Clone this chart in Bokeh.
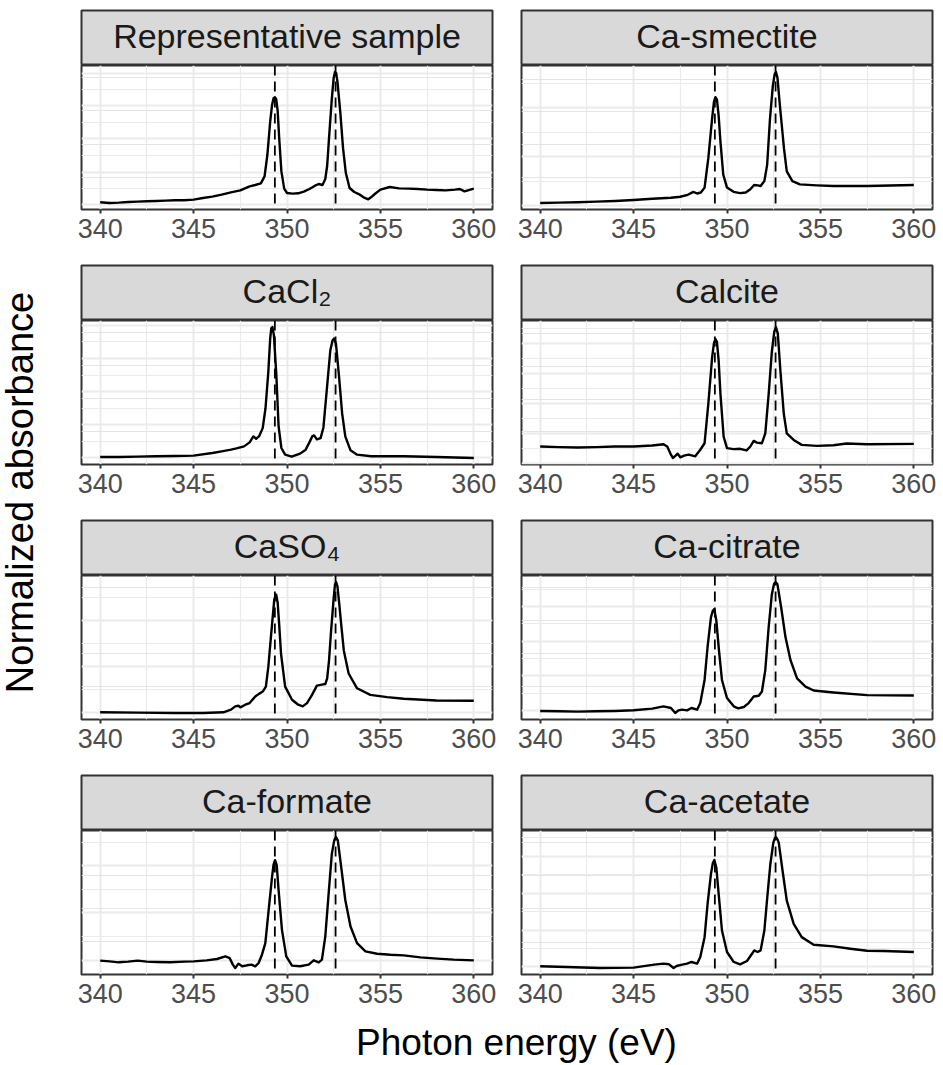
import math
from bokeh.plotting import figure
from bokeh.layouts import row, column
from bokeh.models import Range1d, FixedTicker, Grid, Span
from bokeh.core.properties import value
from bokeh.embed import file_html
from bokeh.resources import INLINE

FONT = "Liberation Sans"

# ---------------- data ----------------
panel_titles = ["Representative sample", "Ca-smectite", "CaCl\u2082", "Calcite",
                "CaSO\u2084", "Ca-citrate", "Ca-formate", "Ca-acetate"]

energy_ticks = [340, 345, 350, 355, 360]
energy_minor_ticks = [342.5, 347.5, 352.5, 357.5]
edge_energies = [349.35, 352.6]

x_title = "Photon energy (eV)"
y_title = "Normalized absorbance"

rep_e = [340.0, 340.5, 341.0, 341.5, 342.0, 342.5, 343.0, 343.5, 344.0, 344.5, 345.0, 345.5,
         346.0, 346.5, 347.0, 347.5, 348.0, 348.3, 348.6, 348.8, 348.95, 349.1, 349.2, 349.28,
         349.35, 349.42, 349.5, 349.58, 349.7, 349.85, 350.0, 350.3, 350.6, 350.9, 351.2, 351.5,
         351.7, 351.9, 352.05, 352.15, 352.25, 352.4, 352.5, 352.57, 352.63, 352.7, 352.85,
         353.0, 353.15, 353.35, 353.6, 353.9, 354.1, 354.35, 354.5, 354.7, 355.0, 355.5, 356.0,
         356.5, 357.0, 357.5, 358.0, 358.5, 359.0, 359.25, 359.5, 360.0]
rep_a = [25, 23, 24, 26, 27, 28, 29, 30, 31, 31, 33, 38,
         42, 48, 55, 61, 73, 77, 82, 103, 168, 268, 318, 338,
         341, 336, 300, 220, 118, 66, 53, 51, 52, 57, 65, 75,
         80, 77, 95, 135, 218, 338, 400, 417, 414, 388, 298,
         188, 113, 68, 56, 48, 40, 34, 40, 50, 63, 71, 67,
         66, 65, 63, 62, 61, 63, 65, 58, 66]

smec_e = [340.0, 341.0, 342.0, 343.0, 344.0, 345.0, 346.0, 347.0, 347.5, 347.9, 348.2, 348.4,
          348.6, 348.8, 349.0, 349.2, 349.3, 349.38, 349.46, 349.55, 349.65, 349.8, 350.0,
          350.35, 350.7, 351.0, 351.25, 351.45, 351.65, 351.8, 352.0, 352.15, 352.3, 352.45,
          352.55, 352.62, 352.7, 352.85, 353.05, 353.2, 353.5, 353.9, 354.8, 355.7, 357.5, 360.0]
smec_a = [21, 22, 23, 25, 27, 30, 34, 37, 40, 46, 55, 50,
          53, 68, 158, 278, 330, 345, 338, 290, 208, 108, 68,
          55, 51, 53, 63, 76, 75, 73, 88, 138, 278, 378,
          415, 422, 405, 308, 188, 118, 88, 78, 75, 73, 73, 76]

cacl2_e = [340.0, 341.0, 342.0, 343.0, 344.0, 345.0, 346.0, 346.5, 347.0, 347.3, 347.7, 348.0,
           348.2, 348.35, 348.5, 348.7, 348.85, 349.0, 349.1, 349.16, 349.22, 349.3, 349.43,
           349.55, 349.7, 349.9, 350.25, 350.7, 351.0, 351.2, 351.35, 351.45, 351.6, 351.8,
           351.95, 352.15, 352.32, 352.44, 352.52, 352.62, 352.77, 352.95, 353.12, 353.4, 353.75,
           354.5, 356.25, 358.0, 360.0]
cacl2_a = [23, 23, 24, 25, 26, 27, 35, 40, 45, 49, 55, 67,
           85, 78, 85, 110, 170, 280, 380, 412, 415, 390, 270,
           115, 50, 30, 24, 33, 45, 67, 85, 88, 76, 80,
           112, 238, 345, 375, 380, 365, 275, 155, 85, 43, 30,
           25, 25, 23, 20]

calc_e = [340.0, 341.0, 342.0, 343.0, 344.0, 345.0, 346.0, 346.6, 346.8, 347.0, 347.1, 347.25,
          347.36, 347.5, 347.7, 347.95, 348.3, 348.57, 348.8, 349.0, 349.2, 349.3, 349.38,
          349.46, 349.55, 349.65, 349.82, 350.0, 350.35, 350.7, 351.05, 351.25, 351.43, 351.6,
          351.87, 352.05, 352.23, 352.4, 352.53, 352.62, 352.72, 352.86, 353.04, 353.2, 353.57,
          354.0, 354.8, 355.7, 356.4, 357.5, 360.0]
calc_a = [55, 53, 52, 53, 55, 55, 58, 62, 55, 30, 20, 27,
          33, 22, 27, 30, 25, 45, 65, 185, 325, 370, 383,
          375, 320, 215, 85, 50, 47, 48, 43, 55, 72, 67,
          65, 95, 215, 345, 405, 420, 400, 285, 155, 95, 75,
          60, 57, 59, 64, 62, 63]

caso4_e = [340.0, 342.0, 344.0, 345.5, 346.6, 347.0, 347.23, 347.4, 347.5, 347.77, 348.0, 348.3,
           348.5, 348.7, 348.87, 349.0, 349.2, 349.32, 349.42, 349.5, 349.58, 349.68, 349.9,
           350.27, 350.6, 350.84, 351.07, 351.34, 351.6, 351.86, 352.05, 352.15, 352.25, 352.36,
           352.5, 352.57, 352.63, 352.7, 352.8, 352.9, 353.04, 353.3, 353.75, 354.46, 355.36,
           356.25, 358.0, 360.0]
caso4_a = [22, 21, 20, 20, 22, 30, 40, 42, 37, 45, 50, 70,
           78, 85, 100, 160, 290, 365, 380, 355, 290, 200, 100,
           60, 45, 40, 50, 75, 103, 106, 108, 125, 180, 270,
           370, 410, 418, 405, 350, 290, 210, 140, 95, 75, 68,
           63, 58, 57]

citr_e = [340.0, 341.0, 342.0, 343.0, 344.0, 345.0, 346.0, 346.6, 347.0, 347.23, 347.4, 347.6,
          347.86, 348.1, 348.4, 348.57, 348.8, 348.96, 349.14, 349.24, 349.32, 349.43, 349.57,
          349.73, 350.0, 350.36, 350.6, 350.9, 351.16, 351.43, 351.7, 351.87, 352.05, 352.23,
          352.4, 352.52, 352.6, 352.7, 352.9, 353.13, 353.4, 353.75, 354.2, 354.64, 355.7,
          357.5, 360.0]
citr_a = [26, 25, 24, 25, 26, 28, 33, 40, 35, 20, 28, 30,
          28, 35, 30, 50, 120, 220, 310, 330, 335, 300, 210,
          120, 65, 40, 34, 38, 50, 70, 72, 85, 150, 280,
          380, 412, 417, 410, 340, 250, 180, 125, 100, 88, 82,
          74, 73]

form_e = [340.0, 340.5, 341.0, 341.5, 342.0, 342.5, 343.0, 343.75, 344.5, 345.0, 345.7, 346.25,
          346.7, 346.93, 347.1, 347.23, 347.4, 347.6, 347.86, 348.1, 348.3, 348.48, 348.66,
          348.84, 349.0, 349.2, 349.28, 349.36, 349.45, 349.55, 349.73, 349.96, 350.27, 350.7,
          351.16, 351.43, 351.7, 351.87, 352.05, 352.23, 352.4, 352.53, 352.62, 352.72, 352.9,
          353.12, 353.4, 353.75, 354.2, 354.82, 355.54, 356.25, 357.14, 358.04, 358.93, 360.0]
form_a = [42, 40, 37, 39, 42, 39, 38, 37, 39, 40, 43, 47,
          55, 50, 30, 20, 33, 25, 28, 30, 25, 35, 60,
          95, 185, 295, 332, 345, 330, 255, 135, 55, 27, 25,
          30, 43, 37, 45, 115, 245, 365, 405, 415, 405, 325,
          225, 145, 95, 70, 63, 60, 58, 52, 48, 45, 43]

acet_e = [340.0, 341.4, 343.2, 345.0, 346.1, 346.6, 346.9, 347.14, 347.3, 347.6, 347.86, 348.1,
          348.4, 348.57, 348.8, 348.96, 349.14, 349.24, 349.32, 349.43, 349.57, 349.73, 350.0,
          350.36, 350.7, 351.07, 351.34, 351.46, 351.64, 351.8, 352.0, 352.14, 352.32, 352.48,
          352.56, 352.62, 352.7, 352.77, 352.95, 353.2, 353.57, 354.0, 354.64, 355.7, 356.6,
          357.5, 358.4, 360.0]
acet_a = [27, 25, 22, 23, 32, 35, 33, 22, 28, 32, 35, 40,
          35, 55, 115, 215, 305, 338, 348, 325, 235, 135, 70,
          40, 33, 43, 65, 75, 70, 75, 135, 225, 335, 400,
          413, 417, 410, 400, 325, 225, 155, 115, 92, 87, 80,
          74, 73, 70]

# horizontal grid lines (major / minor) of each panel, in the panel's absorbance units
rep_grid_major = [18, 116, 216, 315, 413]
rep_grid_minor = [66, 166, 265, 363]
smec_grid_major = [13, 163, 313]
smec_grid_minor = [88, 238, 388]
cacl2_grid_major = [20, 120, 220, 320, 420]
cacl2_grid_minor = [70, 170, 270, 370]
calc_grid_major = [4, 96, 187, 278, 369]
calc_grid_minor = [50, 141, 232, 324, 415]
caso4_grid_major = [21, 161, 301]
caso4_grid_minor = [91, 231, 371]
citr_grid_major = [28, 133, 238, 343]
citr_grid_minor = [80, 185, 290, 395]
form_grid_major = [43, 186, 329]
form_grid_minor = [114, 257, 400]
acet_grid_major = [25, 136, 248, 359]
acet_grid_minor = [81, 192, 304, 415]

panels = [
    (rep_e, rep_a, rep_grid_major, rep_grid_minor),
    (smec_e, smec_a, smec_grid_major, smec_grid_minor),
    (cacl2_e, cacl2_a, cacl2_grid_major, cacl2_grid_minor),
    (calc_e, calc_a, calc_grid_major, calc_grid_minor),
    (caso4_e, caso4_a, caso4_grid_major, caso4_grid_minor),
    (citr_e, citr_a, citr_grid_major, citr_grid_minor),
    (form_e, form_a, form_grid_major, form_grid_minor),
    (acet_e, acet_a, acet_grid_major, acet_grid_minor),
]

# ---------------- styling / layout ----------------
FRAME_W = 411
FRAME_H = 144
STRIP_H = 55
BORDER = "#333333"
GRID = "#EBEBEB"
LEFT_COL = dict(min_border_left=21, min_border_right=14)
RIGHT_COL = dict(min_border_left=15, min_border_right=11)


def hide_grids(f):
    for g in f.grid:
        g.visible = False


def make_strip(title, col_kw, top):
    s = figure(frame_width=FRAME_W, frame_height=STRIP_H, x_range=Range1d(0, 1),
               y_range=Range1d(0, STRIP_H), x_axis_location=None, y_axis_location=None,
               min_border_top=top, min_border_bottom=0, output_backend="svg", title=None,
               toolbar_location=None, tools="", **col_kw)
    hide_grids(s)
    s.background_fill_color = "#D9D9D9"
    s.border_fill_color = "white"
    s.outline_line_color = BORDER
    s.outline_line_width = 2
    s.text(x=[0.5], y=[30], text=[title], text_align="center", text_baseline="alphabetic",
           text_font=value(FONT), text_font_size="34px", text_color="#1A1A1A")
    return s


def make_panel(e, a, gmaj, gmin, col_kw, bottom):
    lo, hi = min(a), max(a)
    pad = 0.05 * (hi - lo)
    xlo, xhi = energy_ticks[0], energy_ticks[-1]
    xpad = 0.05 * (xhi - xlo)
    p = figure(frame_width=FRAME_W, frame_height=FRAME_H,
               x_range=Range1d(xlo - xpad, xhi + xpad), y_range=Range1d(lo - pad, hi + pad),
               y_axis_location=None, min_border_top=0, min_border_bottom=bottom, title=None,
               output_backend="svg", toolbar_location=None, tools="", **col_kw)
    p.background_fill_color = "white"
    p.border_fill_color = "white"
    p.outline_line_color = BORDER
    p.outline_line_width = 2

    xt = FixedTicker(ticks=energy_ticks, minor_ticks=energy_minor_ticks)
    ax = p.xaxis[0]
    ax.ticker = xt
    ax.axis_line_color = None
    ax.major_tick_line_color = BORDER
    ax.major_tick_line_width = 2
    ax.major_tick_in = 0
    ax.major_tick_out = 4
    ax.minor_tick_line_color = None
    ax.major_label_standoff = 5
    ax.major_label_text_font = FONT
    ax.major_label_text_font_size = "27px"
    ax.major_label_text_color = "#4D4D4D"

    g = p.xgrid[0]
    g.ticker = xt
    g.grid_line_color = GRID
    g.grid_line_width = 2
    g.minor_grid_line_color = GRID
    g.minor_grid_line_width = 1.2

    p.add_layout(Grid(dimension=1, ticker=FixedTicker(ticks=gmaj, minor_ticks=gmin),
                      grid_line_color=GRID, grid_line_width=2,
                      minor_grid_line_color=GRID, minor_grid_line_width=1.2))

    p.line(e, a, line_color="black", line_width=2.4, line_join="round")
    for ev in edge_energies:
        p.add_layout(Span(location=ev, dimension="height", line_color="black",
                          line_width=1.8, line_dash="10 6"))
    return p


rows = []
for r in range(4):
    cells = []
    for c in range(2):
        i = 2 * r + c
        e, a, gmaj, gmin = panels[i]
        col_kw = LEFT_COL if c == 0 else RIGHT_COL
        top = 10 if r == 0 else 2
        bottom = 44 if r == 3 else 54
        s = make_strip(panel_titles[i], col_kw, top)
        p = make_panel(e, a, gmaj, gmin, col_kw, bottom)
        cells.append(column(s, p, spacing=0))
    rows.append(row(*cells, spacing=0))

# x-axis title
GRID_W = 446 + 437
XL_H = 47
xl = figure(frame_width=GRID_W, frame_height=XL_H, x_range=Range1d(0, GRID_W),
            y_range=Range1d(0, XL_H), x_axis_location=None, y_axis_location=None,
            min_border=0, title=None, output_backend="svg", toolbar_location=None, tools="")
hide_grids(xl)
xl.outline_line_color = None
xl.text(x=[456], y=[23], text=[x_title], text_align="center", text_baseline="alphabetic",
        text_font=value(FONT), text_font_size="37px", text_color="black")

# y-axis title
YL_W, YL_H = 60, 1065
yl = figure(frame_width=YL_W, frame_height=YL_H, x_range=Range1d(0, YL_W),
            y_range=Range1d(0, YL_H), x_axis_location=None, y_axis_location=None,
            min_border=0, title=None, output_backend="svg", toolbar_location=None, tools="")
hide_grids(yl)
yl.outline_line_color = None
yl.text(x=[19], y=[573], text=[y_title], angle=math.pi / 2, text_align="center",
        text_baseline="alphabetic", text_font=value(FONT), text_font_size="38px",
        text_color="black")

layout = row(yl, column(*rows, xl, spacing=0), spacing=0)

open("out.html", "w").write(file_html(layout, INLINE))
